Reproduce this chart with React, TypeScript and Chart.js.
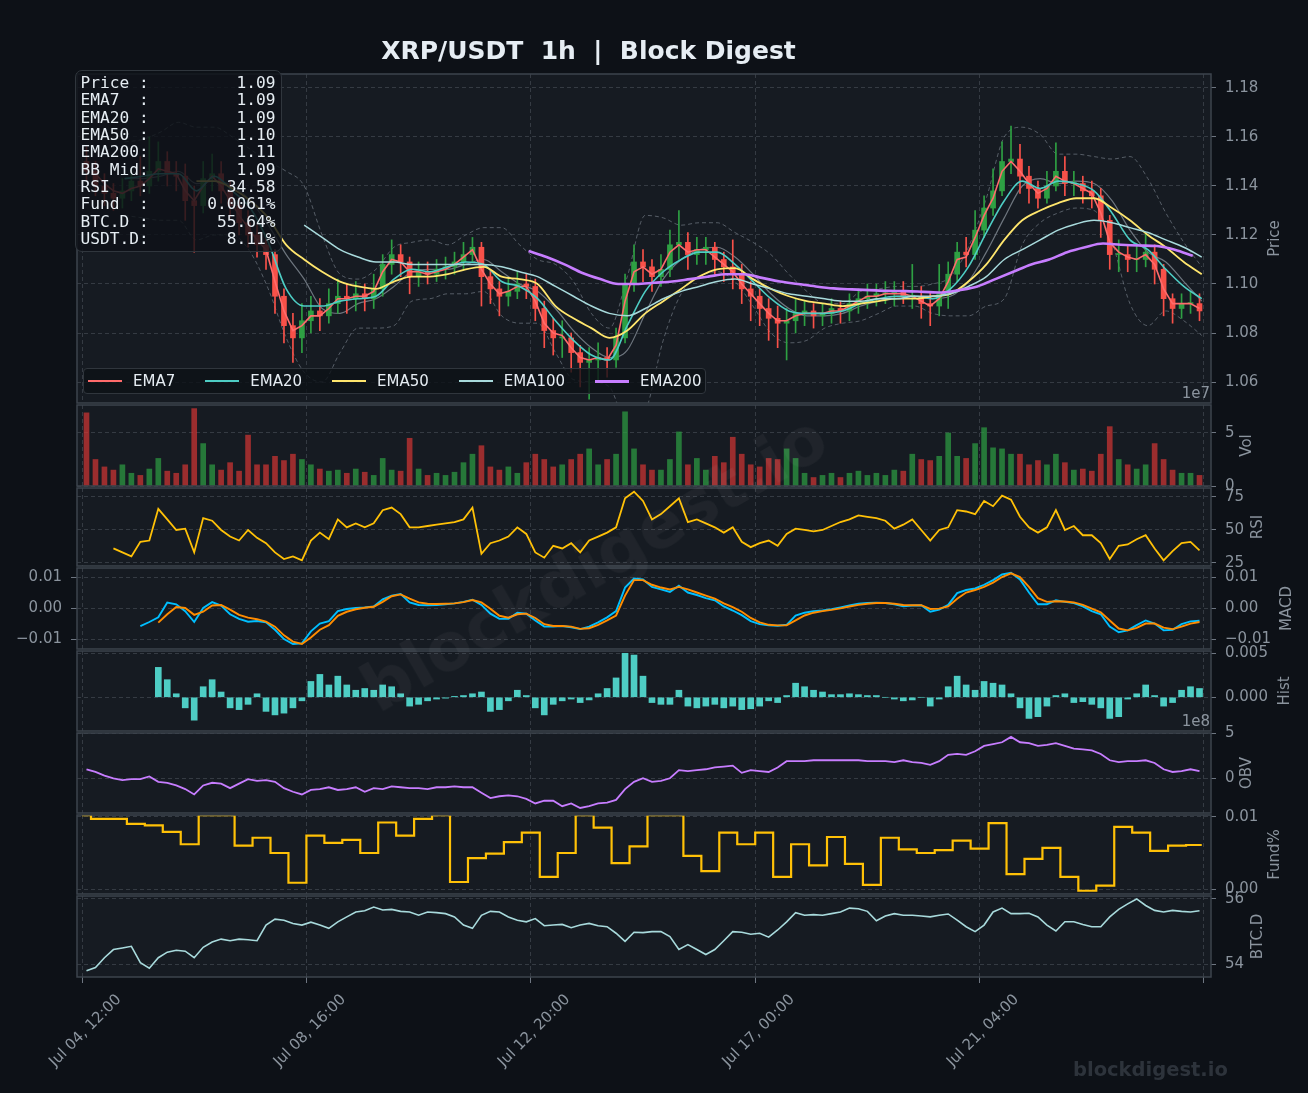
import React, { useEffect, useRef } from 'react';
import { Chart, registerables } from 'chart.js';

Chart.register(...registerables);
Chart.defaults.font.family = '"DejaVu Sans", sans-serif';

// ---------------- data (x = hours since Jul 04 12:00, 1h candles sampled every 4h) ----------------
const xTickHours = [0, 100, 200, 300, 400, 500];
const xTickLabels = ['Jul 04, 12:00', 'Jul 08, 16:00', 'Jul 12, 20:00', 'Jul 17, 00:00', 'Jul 21, 04:00', ''];

const firstOpen = 1.15;
const close = [
  1.146, 1.140, 1.137, 1.135, 1.138, 1.142, 1.140, 1.146, 1.150, 1.145,
  1.144, 1.134, 1.132, 1.143, 1.145, 1.138, 1.132, 1.125, 1.120, 1.116,
  1.112, 1.095, 1.083, 1.078, 1.085, 1.089, 1.087, 1.092, 1.095, 1.094,
  1.096, 1.094, 1.098, 1.108, 1.112, 1.109, 1.103, 1.105, 1.104, 1.106,
  1.107, 1.109, 1.112, 1.115, 1.103, 1.098, 1.095, 1.097, 1.100, 1.099,
  1.090, 1.081, 1.078, 1.078, 1.072, 1.068, 1.069, 1.070, 1.069, 1.078,
  1.100, 1.109, 1.107, 1.103, 1.106, 1.116, 1.117, 1.112, 1.114, 1.115,
  1.110, 1.107, 1.104, 1.098, 1.095, 1.090, 1.086, 1.084, 1.085, 1.088,
  1.089, 1.087, 1.088, 1.090, 1.089, 1.092, 1.094, 1.095, 1.096, 1.096,
  1.097, 1.095, 1.095, 1.092, 1.091, 1.096, 1.104, 1.113, 1.112, 1.122,
  1.131, 1.138, 1.150, 1.151, 1.144, 1.139, 1.135, 1.140, 1.146, 1.141,
  1.141, 1.138, 1.136, 1.126, 1.112, 1.112, 1.110, 1.110, 1.113, 1.106,
  1.094, 1.090, 1.092, 1.092, 1.089,
];
const high = [
  1.156, 1.150, 1.145, 1.141, 1.143, 1.147, 1.152, 1.160, 1.158, 1.154,
  1.150, 1.149, 1.140, 1.150, 1.153, 1.150, 1.142, 1.136, 1.130, 1.124,
  1.120, 1.114, 1.098, 1.088, 1.092, 1.095, 1.094, 1.098, 1.102, 1.100,
  1.101, 1.100, 1.104, 1.112, 1.118, 1.116, 1.111, 1.109, 1.109, 1.110,
  1.111, 1.113, 1.117, 1.119, 1.117, 1.106, 1.101, 1.102, 1.105, 1.104,
  1.102, 1.093, 1.086, 1.085, 1.080, 1.075, 1.074, 1.076, 1.074, 1.082,
  1.104, 1.116, 1.114, 1.110, 1.112, 1.122, 1.130, 1.121, 1.119, 1.119,
  1.117, 1.113, 1.118, 1.108, 1.101, 1.098, 1.094, 1.091, 1.090, 1.094,
  1.093, 1.092, 1.092, 1.094, 1.093, 1.096, 1.098, 1.100, 1.100, 1.101,
  1.101, 1.101, 1.108, 1.099, 1.097, 1.108, 1.109, 1.117, 1.119, 1.130,
  1.136, 1.147, 1.158, 1.1645, 1.157, 1.148, 1.142, 1.146, 1.1576, 1.152,
  1.146, 1.144, 1.142, 1.139, 1.128, 1.118, 1.116, 1.116, 1.121, 1.116,
  1.108, 1.096, 1.096, 1.097, 1.096,
];
const low = [
  1.142, 1.136, 1.132, 1.130, 1.131, 1.134, 1.136, 1.137, 1.142, 1.140,
  1.138, 1.126, 1.113, 1.129, 1.138, 1.133, 1.127, 1.120, 1.115, 1.111,
  1.106, 1.088, 1.076, 1.068, 1.072, 1.080, 1.081, 1.084, 1.088, 1.088,
  1.089, 1.089, 1.090, 1.095, 1.104, 1.103, 1.096, 1.099, 1.100, 1.101,
  1.102, 1.104, 1.106, 1.109, 1.091, 1.092, 1.087, 1.091, 1.094, 1.094,
  1.085, 1.074, 1.071, 1.070, 1.064, 1.058, 1.053, 1.060, 1.062, 1.066,
  1.076, 1.097, 1.101, 1.097, 1.099, 1.103, 1.110, 1.106, 1.108, 1.108,
  1.104, 1.101, 1.098, 1.092, 1.085, 1.083, 1.077, 1.074, 1.069, 1.080,
  1.083, 1.082, 1.083, 1.084, 1.084, 1.085, 1.088, 1.090, 1.091, 1.092,
  1.091, 1.092, 1.090, 1.086, 1.083, 1.087, 1.090, 1.101, 1.107, 1.110,
  1.119, 1.128, 1.136, 1.145, 1.137, 1.133, 1.131, 1.133, 1.138, 1.136,
  1.136, 1.133, 1.131, 1.119, 1.106, 1.105, 1.105, 1.105, 1.107, 1.100,
  1.087, 1.084, 1.086, 1.088, 1.085,
];
// volume, x 1e7
const volume = [
  6.9, 2.5, 1.8, 1.5, 2.0, 1.2, 1.0, 1.6, 2.6, 1.4,
  1.2, 2.0, 7.3, 4.0, 2.0, 1.5, 2.2, 1.4, 4.8, 2.0,
  2.0, 2.8, 2.4, 3.0, 2.5, 2.0, 1.6, 1.4, 1.5, 1.2,
  1.6, 1.3, 1.0, 2.6, 1.5, 1.4, 4.5, 1.6, 1.0, 1.2,
  1.0, 1.3, 2.2, 3.0, 3.8, 1.8, 1.5, 1.8, 1.2, 2.2,
  3.0, 2.5, 1.8, 2.0, 2.5, 3.0, 3.5, 2.0, 2.5, 3.0,
  7.0, 3.5, 2.0, 1.5, 1.5, 2.5, 5.1, 2.0, 2.6, 1.5,
  2.8, 2.2, 4.6, 3.0, 2.0, 1.8, 2.6, 2.5, 3.5, 2.6,
  1.2, 0.8, 1.0, 1.2, 0.8, 1.2, 1.4, 1.0, 1.2, 1.0,
  1.5, 1.4, 3.0, 2.5, 2.4, 2.8, 5.0, 2.8, 2.6, 4.0,
  5.5, 3.6, 3.5, 3.0, 3.0, 2.0, 2.4, 2.0, 3.0, 2.2,
  1.5, 1.6, 1.4, 3.0, 5.6, 2.5, 2.0, 1.6, 2.0, 4.0,
  2.5, 1.5, 1.2, 1.2, 1.0,
];

const ema7Start = 1; // 4h index
const ema7 = [
  1.145, 1.141, 1.138, 1.137, 1.139, 1.140, 1.143, 1.147, 1.146,
  1.145, 1.138, 1.134, 1.140, 1.144, 1.140, 1.134, 1.128, 1.123, 1.118,
  1.114, 1.101, 1.089, 1.081, 1.083, 1.087, 1.087, 1.090, 1.094, 1.094,
  1.095, 1.095, 1.097, 1.105, 1.110, 1.109, 1.105, 1.105, 1.104, 1.105,
  1.106, 1.108, 1.111, 1.114, 1.106, 1.100, 1.096, 1.097, 1.099, 1.099,
  1.093, 1.084, 1.080, 1.079, 1.074, 1.070, 1.069, 1.070, 1.069, 1.075,
  1.093, 1.105, 1.107, 1.104, 1.106, 1.113, 1.116, 1.113, 1.114, 1.114,
  1.111, 1.108, 1.105, 1.100, 1.096, 1.092, 1.088, 1.085, 1.085, 1.087,
  1.088, 1.088, 1.088, 1.089, 1.089, 1.091, 1.093, 1.095, 1.095, 1.096,
  1.096, 1.096, 1.095, 1.093, 1.091, 1.094, 1.101, 1.110, 1.111, 1.119,
  1.128, 1.135, 1.146, 1.150, 1.146, 1.141, 1.137, 1.139, 1.144, 1.142,
  1.141, 1.139, 1.137, 1.129, 1.117, 1.113, 1.111, 1.110, 1.112, 1.108,
  1.098, 1.092, 1.092, 1.092, 1.090,
];
// 8-hourly smooth lines: [start hour, values]
const ema20Start = 19;
const ema20 = [
  1.143, 1.144, 1.145, 1.145, 1.138, 1.144, 1.138, 1.131, 1.117, 1.098,
  1.091, 1.091, 1.093, 1.094, 1.095, 1.102, 1.106, 1.105, 1.107, 1.109,
  1.108, 1.101, 1.099, 1.094, 1.085, 1.077, 1.071, 1.069, 1.083, 1.097,
  1.105, 1.110, 1.113, 1.113, 1.108, 1.101, 1.094, 1.089, 1.088, 1.088,
  1.089, 1.092, 1.094, 1.095, 1.095, 1.094, 1.098, 1.107, 1.121, 1.134,
  1.142, 1.139, 1.142, 1.141, 1.138, 1.129, 1.118, 1.114, 1.106, 1.099,
  1.094,
];
const ema50Start = 51;
const ema50 = [
  1.142, 1.142, 1.139, 1.134, 1.127, 1.116, 1.110, 1.105, 1.101, 1.099,
  1.098, 1.101, 1.103, 1.103, 1.104, 1.106, 1.107, 1.103, 1.102, 1.100,
  1.091, 1.086, 1.082, 1.078, 1.081, 1.088, 1.093, 1.098, 1.103, 1.106,
  1.1065, 1.102, 1.098, 1.095, 1.093, 1.092, 1.091, 1.092, 1.093, 1.094,
  1.094, 1.095, 1.096, 1.101, 1.108, 1.118, 1.126, 1.130, 1.133, 1.135,
  1.135, 1.131, 1.126, 1.120, 1.115, 1.109, 1.104,
];
const ema100Start = 99;
const ema100 = [
  1.124, 1.119, 1.114, 1.111, 1.109, 1.109, 1.108, 1.108, 1.108, 1.108,
  1.108, 1.107, 1.105, 1.103, 1.099, 1.095, 1.091, 1.088, 1.087, 1.090,
  1.094, 1.097, 1.099, 1.101, 1.102, 1.100, 1.098, 1.096, 1.095, 1.094,
  1.093, 1.093, 1.094, 1.094, 1.095, 1.095, 1.096, 1.099, 1.103, 1.110,
  1.114, 1.118, 1.122, 1.1245, 1.126, 1.125, 1.123, 1.121, 1.118, 1.115,
  1.111,
];
const ema200Start = 199;
const ema200 = [
  1.1135, 1.111, 1.108, 1.1045, 1.102, 1.100, 1.100, 1.1005, 1.101, 1.102,
  1.103, 1.104, 1.104, 1.1025, 1.101, 1.100, 1.099, 1.0982, 1.0978, 1.0975,
  1.0972, 1.0971, 1.0968, 1.0965, 1.0975, 1.099, 1.102, 1.105, 1.108, 1.110,
  1.113, 1.115, 1.1165, 1.116, 1.1157, 1.1155, 1.114, 1.1115,
];
const bbStart = 19;
const bbMid = [
  1.143, 1.143, 1.144, 1.146, 1.141, 1.142, 1.140, 1.134, 1.124, 1.112,
  1.102, 1.090, 1.088, 1.092, 1.094, 1.099, 1.105, 1.106, 1.106, 1.108,
  1.110, 1.105, 1.100, 1.097, 1.090, 1.081, 1.074, 1.070, 1.073, 1.088,
  1.102, 1.110, 1.114, 1.115, 1.111, 1.104, 1.096, 1.090, 1.087, 1.087,
  1.088, 1.091, 1.093, 1.095, 1.095, 1.094, 1.095, 1.101, 1.113, 1.127,
  1.140, 1.143, 1.141, 1.142, 1.141, 1.134, 1.122, 1.113, 1.109, 1.101,
  1.093,
];
const bbUpper = [
  1.158, 1.159, 1.162, 1.166, 1.164, 1.164, 1.160, 1.155, 1.150, 1.146,
  1.140, 1.120, 1.104, 1.102, 1.106, 1.115, 1.117, 1.118, 1.116, 1.120,
  1.123, 1.123, 1.116, 1.110, 1.108, 1.101, 1.088, 1.082, 1.103, 1.128,
  1.127, 1.124, 1.125, 1.125, 1.121, 1.117, 1.112, 1.104, 1.097, 1.092,
  1.092, 1.097, 1.098, 1.099, 1.099, 1.100, 1.103, 1.115, 1.135, 1.160,
  1.164, 1.161, 1.153, 1.153, 1.152, 1.151, 1.152, 1.143, 1.129, 1.117,
  1.107,
];
const bbLower = [
  1.128, 1.127, 1.126, 1.126, 1.118, 1.120, 1.120, 1.113, 1.098, 1.078,
  1.064, 1.060, 1.072, 1.082, 1.082, 1.083, 1.093, 1.094, 1.096, 1.096,
  1.097, 1.087, 1.084, 1.084, 1.072, 1.061, 1.060, 1.058, 1.043, 1.048,
  1.077, 1.096, 1.103, 1.105, 1.101, 1.091, 1.080, 1.076, 1.077, 1.082,
  1.084, 1.085, 1.088, 1.091, 1.091, 1.088, 1.087, 1.087, 1.091, 1.094,
  1.116, 1.125, 1.129, 1.131, 1.130, 1.117, 1.092, 1.083, 1.089, 1.085,
  1.079,
];

const rsiStart = 3;
const rsi = [
  36, 33, 30, 41, 42, 66, 58, 50, 51, 33,
  59, 57, 50, 45, 42, 50, 44, 40, 33, 28,
  30, 27, 42, 48, 43, 58, 52, 55, 52, 55,
  65, 67, 62, 52, 52, 53, 54, 55, 56, 58,
  67, 32, 40, 42, 45, 52, 47, 33, 29, 38,
  36, 40, 33, 42, 45, 48, 52, 74, 79, 72,
  58, 62, 68, 74, 56, 58, 55, 52, 48, 52,
  41, 37, 40, 42, 38, 47, 51, 50, 49, 50,
  53, 56, 58, 61, 60, 59, 57, 51, 54, 58,
  50, 42, 50, 52, 65, 64, 62, 72, 68, 76,
  73, 60, 52, 48, 52, 65, 50, 53, 46, 46,
  40, 28, 38, 39, 43, 46, 36, 27, 34, 40,
  41, 34.58,
];

const macdStart = 6;
const macd = [
  -0.0058, -0.0045, -0.0030, 0.0018,
  0.0012, -0.0010, -0.0045, 0.0000, 0.0019, 0.0008, -0.0020, -0.0035, -0.0044, -0.0042,
  -0.0046, -0.0070, -0.0100, -0.0116, -0.0114, -0.0075, -0.0050, -0.0042, -0.0010, -0.0003,
  0.0000, 0.0002, 0.0005, 0.0028, 0.0040, 0.0045, 0.0018, 0.0010, 0.0009, 0.0010,
  0.0012, 0.0015, 0.0020, 0.0027, 0.0010, -0.0018, -0.0035, -0.0035, -0.0015, -0.0018,
  -0.0040, -0.0060, -0.0060, -0.0058, -0.0062, -0.0068, -0.0060, -0.0046, -0.0030, -0.0010,
  0.0066, 0.0095, 0.0092, 0.0068, 0.0060, 0.0052, 0.0072, 0.0050, 0.0042, 0.0032,
  0.0025, 0.0005, -0.0008, -0.0023, -0.0042, -0.0052, -0.0056, -0.0057, -0.0054, -0.0024,
  -0.0015, -0.0010, -0.0008, -0.0004, 0.0002, 0.0008, 0.0014, 0.0016, 0.0017, 0.0016,
  0.0012, 0.0006, 0.0008, 0.0009, -0.0012, -0.0005, 0.0010, 0.0048, 0.0058, 0.0063,
  0.0075, 0.0090, 0.0108, 0.0114, 0.0092, 0.0050, 0.0012, 0.0012, 0.0025, 0.0020,
  0.0016, 0.0005, -0.0010, -0.0020, -0.0060, -0.0078, -0.0072, -0.0055, -0.0040, -0.0050,
  -0.0072, -0.0070, -0.0052, -0.0043, -0.0041,
];
const signalStart = 8;
const signal = [
  -0.0047, -0.0020,
  0.0003, 0.0000, -0.0022, -0.0012, 0.0008, 0.0010, -0.0005, -0.0022, -0.0031, -0.0036,
  -0.0044, -0.0060, -0.0088, -0.0108, -0.0116, -0.0095, -0.0070, -0.0055, -0.0025, -0.0012,
  -0.0004, 0.0001, 0.0004, 0.0020, 0.0038, 0.0044, 0.0030, 0.0018, 0.0014, 0.0013,
  0.0014, 0.0015, 0.0019, 0.0026, 0.0018, -0.0002, -0.0025, -0.0031, -0.0020, -0.0018,
  -0.0032, -0.0052, -0.0058, -0.0058, -0.0060, -0.0067, -0.0065, -0.0054, -0.0040, -0.0024,
  0.0040, 0.0090, 0.0090, 0.0075, 0.0066, 0.0060, 0.0068, 0.0060, 0.0050, 0.0040,
  0.0030, 0.0015, 0.0003, -0.0012, -0.0032, -0.0046, -0.0054, -0.0056, -0.0056, -0.0040,
  -0.0024, -0.0015, -0.0010, -0.0006, -0.0001, 0.0005, 0.0010, 0.0014, 0.0016, 0.0016,
  0.0014, 0.0010, 0.0009, 0.0009, -0.0003, -0.0002, 0.0005, 0.0030, 0.0050, 0.0058,
  0.0068, 0.0082, 0.0100, 0.0112, 0.0100, 0.0068, 0.0032, 0.0020, 0.0022, 0.0021,
  0.0018, 0.0010, -0.0002, -0.0014, -0.0040, -0.0066, -0.0072, -0.0064, -0.0050, -0.0050,
  -0.0063, -0.0068, -0.0060, -0.0050, -0.0045,
];
const histStart = 8;
const hist = [
  0.0034, 0.0020,
  0.0004, -0.0012, -0.0026, 0.0012, 0.0020, 0.0006, -0.0012, -0.0014, -0.0008, 0.0004,
  -0.0016, -0.0020, -0.0018, -0.0012, -0.0004, 0.0018, 0.0026, 0.0014, 0.0024, 0.0014,
  0.0008, 0.0010, 0.0008, 0.0014, 0.0012, 0.0004, -0.0010, -0.0008, -0.0004, -0.0002,
  -0.0001, 0.0001, 0.0002, 0.0004, 0.0006, -0.0016, -0.0014, -0.0004, 0.0008, 0.0002,
  -0.0012, -0.0020, -0.0008, -0.0004, -0.0002, -0.0006, -0.0003, 0.0004, 0.0010, 0.0022,
  0.0050, 0.0048, 0.0024, -0.0006, -0.0008, -0.0008, 0.0008, -0.0010, -0.0012, -0.0010,
  -0.0008, -0.0012, -0.0010, -0.0014, -0.0013, -0.0010, -0.0004, -0.0006, 0.0002, 0.0016,
  0.0012, 0.0008, 0.0006, 0.0003, 0.0003, 0.0004, 0.0003, 0.0002, 0.0002, 0.0000,
  -0.0002, -0.0004, -0.0003, 0.0000, -0.0010, -0.0002, 0.0012, 0.0024, 0.0014, 0.0008,
  0.0018, 0.0016, 0.0014, 0.0004, -0.0012, -0.0024, -0.0022, -0.0010, 0.0002, 0.0004,
  -0.0006, -0.0005, -0.0008, -0.0012, -0.0024, -0.0022, -0.0002, 0.0004, 0.0014, 0.0002,
  -0.0010, -0.0006, 0.0008, 0.0012, 0.0010,
];
// OBV, x 1e8
const obv = [
  1.0, 0.7, 0.3, 0.0, -0.2, -0.1, -0.1, 0.2, -0.4, -0.5,
  -0.8, -1.2, -1.8, -0.8, -0.5, -0.6, -1.1, -0.6, -0.1, -0.3,
  -0.2, -0.4, -1.1, -1.5, -1.8, -1.3, -1.2, -1.0, -1.3, -1.2,
  -1.0, -1.5, -1.1, -1.2, -0.9, -1.0, -1.1, -1.1, -1.2, -1.0,
  -1.0, -0.9, -1.0, -1.0, -1.6, -2.2, -2.0, -1.9, -2.0, -2.3,
  -2.8, -2.5, -2.5, -3.1, -2.8, -3.3, -3.1, -2.8, -2.7, -2.4,
  -1.2, -0.4, 0.0, -0.4, -0.3, 0.0, 0.9, 0.8, 0.9, 1.0,
  1.2, 1.3, 1.4, 0.6, 0.9, 0.8, 0.7, 1.2, 1.9, 1.9,
  1.9, 2.0, 2.0, 2.0, 2.0, 2.0, 2.0, 1.9, 1.9, 1.9,
  1.8, 2.0, 1.8, 1.7, 1.5, 1.9, 2.6, 2.7, 2.6, 3.0,
  3.6, 3.8, 4.0, 4.6, 4.0, 3.9, 3.6, 3.7, 3.9, 3.6,
  3.3, 3.2, 3.1, 2.7, 2.0, 1.8, 1.9, 1.9, 2.0, 1.7,
  1.0, 0.7, 0.8, 1.0, 0.8,
];
// funding rate (%), changes every 8h
const fundHours = [
  0, 4, 20, 28, 36, 44, 52, 68, 76, 84,
  92, 100, 108, 116, 124, 132, 140, 148, 156, 164,
  172, 180, 188, 196, 204, 212, 220, 228, 236, 244,
  252, 268, 276, 284, 292, 300, 308, 316, 324, 332,
  340, 348, 356, 364, 372, 380, 388, 396, 404, 412,
  420, 428, 436, 444, 452, 460, 468, 476, 484, 492,
  499,
];
const fundRate = [
  0.0102, 0.0097, 0.0090, 0.0088, 0.0079, 0.0062, 0.0102, 0.0060, 0.0071, 0.0050,
  0.0009, 0.0074, 0.0064, 0.0068, 0.0050, 0.0092, 0.0074, 0.0097, 0.0102, 0.0010,
  0.0043, 0.0049, 0.0065, 0.0078, 0.0017, 0.0050, 0.0102, 0.0085, 0.0036, 0.0059,
  0.0102, 0.0046, 0.0025, 0.0078, 0.0062, 0.0078, 0.0017, 0.0062, 0.0033, 0.0072,
  0.0035, 0.0006, 0.0071, 0.0055, 0.0050, 0.0054, 0.0067, 0.0056, 0.0091, 0.0021,
  0.0042, 0.0057, 0.0017, -0.0002, 0.0005, 0.0086, 0.0078, 0.0053, 0.0060, 0.0061,
  0.0061,
];
const btcDom = [
  53.8, 53.9, 54.2, 54.45, 54.5, 54.55, 54.05, 53.88, 54.2, 54.37,
  54.43, 54.4, 54.2, 54.52, 54.68, 54.77, 54.72, 54.77, 54.75, 54.72,
  55.2, 55.38, 55.35, 55.25, 55.2, 55.29, 55.2, 55.1, 55.3, 55.45,
  55.6, 55.64, 55.75, 55.66, 55.68, 55.62, 55.6, 55.5, 55.6, 55.58,
  55.55, 55.45, 55.2, 55.1, 55.5, 55.62, 55.6, 55.45, 55.35, 55.3,
  55.4, 55.18, 55.2, 55.22, 55.12, 55.2, 55.25, 55.18, 55.15, 54.95,
  54.7, 54.98, 54.97, 55.0, 55.0, 54.85, 54.45, 54.6, 54.45, 54.3,
  54.45, 54.72, 55.0, 54.98, 54.92, 54.95, 54.83, 55.05, 55.3, 55.58,
  55.5, 55.52, 55.5, 55.55, 55.6, 55.72, 55.7, 55.62, 55.33, 55.48,
  55.55, 55.5, 55.5, 55.48, 55.45, 55.5, 55.54, 55.35, 55.15, 55.0,
  55.2, 55.6, 55.72, 55.55, 55.55, 55.56, 55.45, 55.2, 55.02, 55.3,
  55.3, 55.22, 55.15, 55.15, 55.45, 55.68, 55.85, 56.0, 55.8, 55.65,
  55.6, 55.65, 55.62, 55.6, 55.64,
];
const usdtDom = 8.11;

// ---------------- styling / layout ----------------
const PAGE_W = 1308;
const PAGE_H = 1093;
const PAD = 10;
const LEFT_W = 77;
const RIGHT_W = 97;
const X_AXIS_H = 116;
const X_MIN = -2.23;
const X_MAX = 503.12;

const PAGE_BG = '#0d1117';
const PANEL_BG = '#161b22';
const GRID = '#353b43';
const FRAME = '#3d444d';
const TICK = '#6e7681';
const TEXT = '#8b949e';
const WHITE = '#e6edf3';

const UP = '#2ea043';
const DOWN = '#f85149';
const C_EMA7 = '#ff6b6b';
const C_EMA20 = '#4ecdc4';
const C_EMA50 = '#ffe66d';
const C_EMA100 = '#a8dadc';
const C_EMA200 = '#c77dff';

const hourOf = (i: number) => 4 * i + 2;
const pts4h = (start: number, vals: number[]) => vals.map((v, k) => ({ x: hourOf(start + k), y: v }));
const ptsStep = (start: number, step: number, vals: number[]) => vals.map((v, k) => ({ x: start + k * step, y: v }));
const paired = (xs: number[], vals: number[]) => vals.map((v, k) => ({ x: xs[k], y: v }));
const last = (a: number[]) => a[a.length - 1];

const opens = close.map((_, i) => (i === 0 ? firstOpen : close[i - 1]));
const candleColor = close.map((c, i) => (c >= opens[i] ? UP : DOWN));
const volColor = close.map((c, i) => (c >= opens[i] ? 'rgba(46,160,67,0.7)' : 'rgba(218,54,51,0.68)'));

const line = (data: any[], color: string, width: number, extra: any = {}) => ({
  type: 'line',
  data,
  borderColor: color,
  borderWidth: width,
  pointRadius: 0,
  fill: false,
  tension: 0,
  ...extra,
});
const smooth = { cubicInterpolationMode: 'monotone' };

const priceSets = [
  line(ptsStep(ema200Start, 8, ema200), C_EMA200, 2.6, { order: 1, ...smooth }),
  line(ptsStep(ema100Start, 8, ema100), C_EMA100, 1.5, { order: 1, ...smooth }),
  line(ptsStep(ema50Start, 8, ema50), C_EMA50, 1.8, { order: 1, ...smooth }),
  line(ptsStep(ema20Start, 8, ema20), C_EMA20, 1.6, { order: 1, ...smooth }),
  line(pts4h(ema7Start, ema7), C_EMA7, 1.6, { order: 1 }),
  {
    type: 'bar',
    data: close.map((c, i) => ({ x: hourOf(i), y: [opens[i], c] })),
    backgroundColor: candleColor,
    barThickness: 5,
    minBarLength: 1,
    grouped: false,
    order: 2,
  },
  {
    type: 'bar',
    data: close.map((_, i) => ({ x: hourOf(i), y: [low[i], high[i]] })),
    backgroundColor: candleColor,
    barThickness: 1,
    grouped: false,
    order: 3,
  },
  line(ptsStep(bbStart, 8, bbMid), 'rgba(139,148,158,0.75)', 1.2, { order: 4, ...smooth }),
  line(ptsStep(bbStart, 8, bbUpper), 'rgba(139,148,158,0.55)', 1, { order: 4, borderDash: [4, 3], ...smooth }),
  line(ptsStep(bbStart, 8, bbLower), 'rgba(139,148,158,0.55)', 1, { order: 4, borderDash: [4, 3], ...smooth }),
];

const volSets = [
  { type: 'bar', data: pts4h(0, volume), backgroundColor: volColor, barThickness: 5, grouped: false },
];
const rsiSets = [line(pts4h(rsiStart, rsi), '#ffc107', 1.8)];
const macdSets = [
  line(pts4h(signalStart, signal), '#ff8c00', 1.9, { order: 0 }),
  line(pts4h(macdStart, macd), '#00bfff', 1.9, { order: 1 }),
];
const histSets = [
  { type: 'bar', data: pts4h(histStart, hist), backgroundColor: '#4ecdc4', barThickness: 6, grouped: false },
];
const obvSets = [line(pts4h(0, obv), '#c77dff', 1.8)];
const fundSets = [line(paired(fundHours, fundRate), '#ffc107', 2.2, { stepped: 'before' })];
const btcSets = [line(pts4h(0, btcDom), '#a8dadc', 1.6)];

const signed2 = (v: number) => (v < 0 ? '\u2212' + Math.abs(v).toFixed(2) : v.toFixed(2));

const panels = [
  { id: 'price', top: 74, bottom: 403, min: 1.05143, max: 1.18571, ticks: [1.06, 1.08, 1.1, 1.12, 1.14, 1.16, 1.18], fmt: (v: number) => v.toFixed(2), title: 'Price', titleX: 1275, datasets: priceSets, offsetText: '1e7' },
  { id: 'vol', top: 405, bottom: 486, min: 0, max: 7.64, ticks: [0, 5], fmt: (v: number) => String(v), title: 'Vol', titleX: 1247, datasets: volSets },
  { id: 'rsi', top: 488, bottom: 566, min: 22.7, max: 81.8, ticks: [25, 50, 75], fmt: (v: number) => String(v), title: 'RSI', titleX: 1258, datasets: rsiSets },
  { id: 'macd', top: 568, bottom: 649, min: -0.0132, max: 0.0129, ticks: [-0.01, 0, 0.01], fmt: signed2, title: 'MACD', titleX: 1287, datasets: macdSets, leftAxis: true },
  { id: 'hist', top: 651, bottom: 731, min: -0.00383, max: 0.00526, ticks: [0, 0.005], fmt: (v: number) => v.toFixed(3), title: 'Hist', titleX: 1285, datasets: histSets, offsetText: '1e8' },
  { id: 'obv', top: 733, bottom: 813, min: -3.86, max: 5.03, ticks: [0, 5], fmt: (v: number) => String(v), title: 'OBV', titleX: 1247, datasets: obvSets },
  { id: 'fund', top: 815, bottom: 894, min: -0.00065, max: 0.01023, ticks: [0, 0.01], fmt: (v: number) => v.toFixed(2), title: 'Fund%', titleX: 1275, datasets: fundSets },
  { id: 'btcd', top: 896, bottom: 977, min: 53.61, max: 56.09, ticks: [54, 56], fmt: (v: number) => String(v), title: 'BTC.D', titleX: 1258, datasets: btcSets, isBottom: true },
];

const panelDeco = {
  id: 'panelDeco',
  beforeDraw(chart: any) {
    const { ctx, chartArea: a } = chart;
    ctx.save();
    ctx.fillStyle = PANEL_BG;
    ctx.fillRect(a.left, a.top, a.right - a.left, a.bottom - a.top);
    ctx.restore();
  },
  afterDraw(chart: any, _args: any, opts: any) {
    const { ctx, chartArea: a } = chart;
    ctx.save();
    ctx.strokeStyle = FRAME;
    ctx.lineWidth = 1.5;
    ctx.strokeRect(a.left, a.top, a.right - a.left, a.bottom - a.top);
    ctx.fillStyle = TEXT;
    ctx.font = '15px "DejaVu Sans", sans-serif';
    ctx.translate(opts.titleX, (a.top + a.bottom) / 2);
    ctx.rotate(-Math.PI / 2);
    ctx.textAlign = 'center';
    ctx.textBaseline = 'middle';
    ctx.fillText(opts.title, 0, 0);
    ctx.restore();
    if (opts.offsetText) {
      ctx.save();
      ctx.fillStyle = TEXT;
      ctx.font = '15px "DejaVu Sans", sans-serif';
      ctx.textAlign = 'right';
      ctx.textBaseline = 'alphabetic';
      ctx.fillText(opts.offsetText, a.right - 1, a.bottom - 5);
      ctx.restore();
    }
  },
};

const noPad = (s: any) => {
  s.paddingTop = 0;
  s.paddingBottom = 0;
  s.paddingLeft = 0;
  s.paddingRight = 0;
};

function makeConfig(cfg: any) {
  const yScale = (position: string, isLeft: boolean) => ({
    type: 'linear',
    position,
    min: cfg.min,
    max: cfg.max,
    beginAtZero: false,
    afterBuildTicks: (s: any) => {
      s.ticks = cfg.ticks.map((v: number) => ({ value: v }));
    },
    afterFit: (s: any) => {
      s.width = isLeft ? LEFT_W : RIGHT_W;
      noPad(s);
    },
    ticks: { color: TEXT, font: { size: 15 }, padding: isLeft ? 9 : 9, callback: (v: number) => cfg.fmt(v) },
    grid: { display: true, drawOnChartArea: !isLeft, drawTicks: true, tickLength: isLeft ? 6 : 5, color: GRID, tickColor: TICK, lineWidth: 1 },
    border: { display: false, dash: [4, 3] },
  });
  const scales: any = {
    x: {
      type: 'linear',
      min: X_MIN,
      max: X_MAX,
      offset: false,
      afterBuildTicks: (s: any) => {
        s.ticks = xTickHours.map((v) => ({ value: v }));
      },
      afterFit: (s: any) => {
        s.height = cfg.isBottom ? X_AXIS_H : 0;
        noPad(s);
      },
      ticks: {
        display: !!cfg.isBottom,
        autoSkip: false,
        minRotation: 45,
        maxRotation: 45,
        labelOffset: 37,
        padding: 8,
        color: TEXT,
        font: { size: 15 },
        callback: (v: number) => {
          const k = xTickHours.indexOf(v);
          return k >= 0 ? xTickLabels[k] : '';
        },
      },
      grid: { color: GRID, offset: false, drawTicks: !!cfg.isBottom, tickLength: 6, tickColor: TICK },
      border: { display: false, dash: [4, 3] },
    },
    y: yScale('right', false),
  };
  if (cfg.leftAxis) scales.yl = yScale('left', true);
  return {
    type: 'line',
    data: { datasets: cfg.datasets },
    options: {
      responsive: false,
      animation: false,
      events: [],
      layout: {
        autoPadding: false,
        padding: { left: cfg.leftAxis ? 0 : LEFT_W, right: 0, top: PAD, bottom: cfg.isBottom ? 0 : PAD },
      },
      plugins: {
        legend: { display: false },
        tooltip: { enabled: false },
        panelDeco: { title: cfg.title, titleX: cfg.titleX, offsetText: cfg.offsetText },
      },
      scales,
    },
    plugins: [panelDeco],
  };
}

function PanelChart({ cfg }: { cfg: any }) {
  const ref = useRef<HTMLCanvasElement | null>(null);
  useEffect(() => {
    const chart = new Chart(ref.current as HTMLCanvasElement, makeConfig(cfg) as any);
    return () => chart.destroy();
  }, [cfg]);
  const top = cfg.top - PAD;
  const height = cfg.isBottom ? PAGE_H - top : cfg.bottom - cfg.top + 2 * PAD;
  return (
    <canvas
      ref={ref}
      width={PAGE_W}
      height={height}
      style={{ position: 'absolute', left: 0, top, width: PAGE_W, height, display: 'block' }}
    />
  );
}

const infoRows: [string, string][] = [
  ['Price ', last(close).toFixed(2)],
  ['EMA7  ', last(ema7).toFixed(2)],
  ['EMA20 ', last(ema20).toFixed(2)],
  ['EMA50 ', last(ema50).toFixed(2)],
  ['EMA200', last(ema200).toFixed(2)],
  ['BB Mid', last(bbMid).toFixed(2)],
  ['RSI   ', last(rsi).toFixed(2)],
  ['Fund  ', last(fundRate).toFixed(4) + '%'],
  ['BTC.D ', last(btcDom).toFixed(2) + '%'],
  ['USDT.D', usdtDom.toFixed(2) + '%'],
];

const legendItems = [
  { label: 'EMA7', color: C_EMA7, w: 2.2 },
  { label: 'EMA20', color: C_EMA20, w: 2.2 },
  { label: 'EMA50', color: C_EMA50, w: 2.2 },
  { label: 'EMA100', color: C_EMA100, w: 2.2 },
  { label: 'EMA200', color: C_EMA200, w: 3 },
];

export default function App() {
  return (
    <div
      style={{
        position: 'fixed',
        left: 0,
        top: 0,
        width: PAGE_W,
        height: PAGE_H,
        background: PAGE_BG,
        overflow: 'hidden',
        fontFamily: '"DejaVu Sans", sans-serif',
      }}
    >
      {panels.map((p) => (
        <PanelChart key={p.id} cfg={p} />
      ))}

      <div
        style={{
          position: 'absolute',
          left: 588.5,
          top: 36,
          transform: 'translateX(-50%)',
          whiteSpace: 'pre',
          color: WHITE,
          fontWeight: 'bold',
          fontSize: 25,
          lineHeight: '30px',
        }}
      >
        {'XRP/USDT  1h  |  Block Digest'}
      </div>

      <div
        style={{
          position: 'absolute',
          left: 75,
          top: 70,
          width: 207,
          height: 182,
          boxSizing: 'border-box',
          background: 'rgba(13,17,23,0.82)',
          border: '1.5px solid #30363d',
          borderRadius: 7,
          padding: '3px 0 0 4.5px',
          color: WHITE,
          fontFamily: '"DejaVu Sans Mono", monospace',
          fontSize: 16.2,
          lineHeight: '17.35px',
          whiteSpace: 'pre',
        }}
      >
        {infoRows.map(([k, v]) => (
          <div key={k}>{k + ':' + v.padStart(13)}</div>
        ))}
      </div>

      <div
        style={{
          position: 'absolute',
          left: 83,
          top: 368,
          height: 26,
          boxSizing: 'border-box',
          background: 'rgba(13,17,23,0.8)',
          border: '1px solid #30363d',
          borderRadius: 4,
          display: 'flex',
          alignItems: 'center',
          padding: '0 4px 0 4px',
          color: WHITE,
          fontSize: 15,
        }}
      >
        {legendItems.map((it, k) => (
          <div key={it.label} style={{ display: 'flex', alignItems: 'center', marginRight: k === legendItems.length - 1 ? 0 : 30 }}>
            <div style={{ width: 34, height: it.w, background: it.color, marginRight: 11 }} />
            <span style={{ lineHeight: '18px' }}>{it.label}</span>
          </div>
        ))}
      </div>

      <div
        style={{
          position: 'absolute',
          left: 594,
          top: 563,
          transform: 'translate(-50%, -50%) rotate(-30deg)',
          whiteSpace: 'pre',
          color: 'rgba(255,255,255,0.04)',
          fontWeight: 'bold',
          fontSize: 66,
          pointerEvents: 'none',
        }}
      >
        blockdigest.io
      </div>

      <div
        style={{
          position: 'absolute',
          left: 1073,
          top: 1058,
          color: '#2d333b',
          fontWeight: 'bold',
          fontSize: 19.5,
          lineHeight: '24px',
          whiteSpace: 'pre',
        }}
      >
        blockdigest.io
      </div>
    </div>
  );
}
